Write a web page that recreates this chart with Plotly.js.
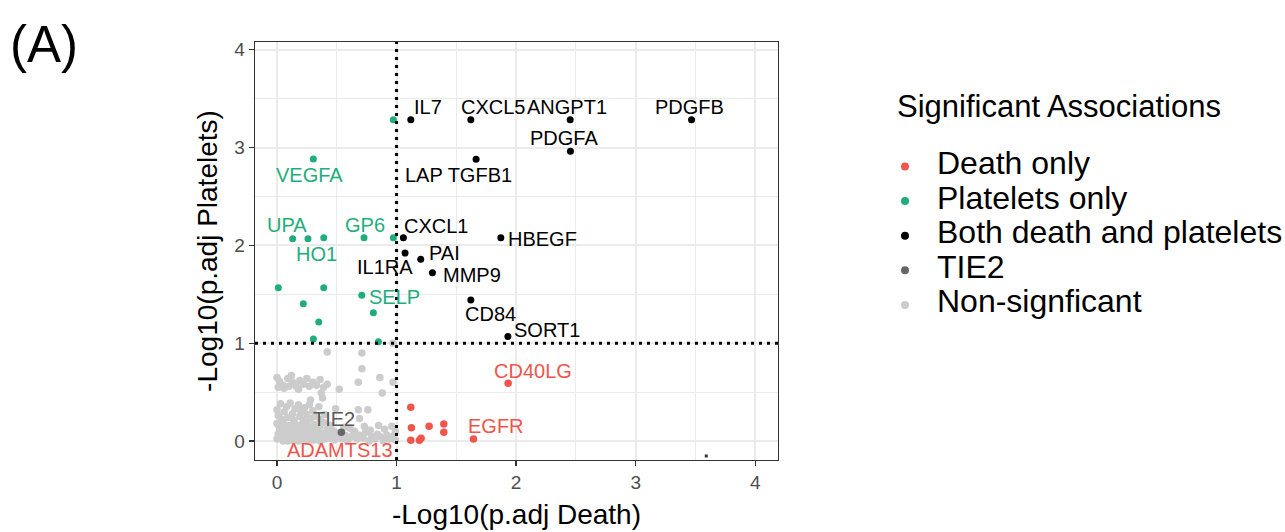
<!DOCTYPE html>
<html><head><meta charset="utf-8">
<script src="https://cdn.plot.ly/plotly-3.0.1.min.js"></script>
<style>html,body{margin:0;padding:0;background:#fff}#chart{width:1285px;height:532px}</style>
</head><body><div id="chart"></div>
<script>
// ---------------- data ----------------
const bothX = [1.119, 1.621, 2.452, 3.467, 2.454, 1.665, 1.057, 1.872, 1.071, 1.202, 1.300, 1.621, 1.931];
const bothY = [3.285, 3.285, 3.285, 3.285, 2.962, 2.880, 2.079, 2.079, 1.922, 1.858, 1.721, 1.442, 1.070];
const bothLabels = ['IL7', 'CXCL5', 'ANGPT1', 'PDGFB', 'PDGFA', 'LAP TGFB1', 'CXCL1', 'HBEGF', 'IL1RA', 'PAI', 'MMP9', 'CD84', 'SORT1'];

const plateletX = [0.973, 0.304, 0.131, 0.259, 0.391, 0.728, 0.973, 0.011, 0.391, 0.220, 0.709, 0.806, 0.349, 0.304, 0.848];
const plateletY = [3.285, 2.883, 2.069, 2.069, 2.079, 2.079, 2.079, 1.568, 1.568, 1.404, 1.490, 1.312, 1.217, 1.043, 1.015];
const plateletLabels = ['', 'VEGFA', 'UPA', 'HO1', '', 'GP6', '', '', '', '', 'SELP', '', '', '', ''];

const deathX = [1.119, 1.124, 1.272, 1.395, 1.395, 1.119, 1.191, 1.205, 1.643, 1.933];
const deathY = [0.345, 0.136, 0.150, 0.174, 0.089, 0.007, 0.007, 0.028, 0.020, 0.590];
const deathLabels = ['', '', '', '', '', 'ADAMTS13', '', '', 'EGFR', 'CD40LG'];

const tie2X = [0.538];
const tie2Y = [0.089];
const tie2Labels = ['TIE2'];

const nonsigX = [
  0.00,0.02,0.05,0.09,0.12,0.13,0.16,0.19,0.22,0.25,0.27,0.30,0.33,0.36,0.39,0.42,0.06,0.18,0.01,0.10,
  0.42,0.71,0.97,0.71,0.68,0.86,0.97,0.52,0.88,0.37,0.38,0.28,
  0.00,0.03,0.06,0.08,0.11,0.13,0.15,0.18,0.20,0.23,0.25,0.27,0.30,0.32,0.35,0.01,0.04,0.09,0.14,0.19,0.22,0.28,0.36,0.40,0.49,0.68,0.76,0.69,
  0.00,0.02,0.05,0.07,0.10,0.12,0.15,0.17,0.20,0.23,0.25,0.28,0.31,0.33,0.36,0.39,0.42,0.45,0.48,0.56,0.61,0.65,0.73,0.78,0.85,0.90,0.96,0.99,
  0.00,0.01,0.03,0.05,0.06,0.08,0.10,0.12,0.14,0.16,0.18,0.20,0.22,0.24,0.26,0.28,0.30,0.32,0.34,0.36,0.38,0.40,0.42,0.44,0.46,0.48,0.50,0.52,0.54,0.57,0.59,0.62,0.64,0.67,0.69,0.72,0.74,0.77,0.79,0.82,0.84,0.87,0.89,0.92,0.94,0.97,0.99,
  0.02,0.04,0.07,0.09,0.11,0.13,0.15,0.17,0.19,0.21,0.23,0.25,0.27,0.29,0.31,0.33,0.35,0.37,0.39
];
const nonsigY = [
  0.65,0.61,0.57,0.64,0.67,0.60,0.56,0.62,0.58,0.64,0.56,0.60,0.57,0.63,0.55,0.58,0.54,0.53,0.55,0.56,
  0.91,0.90,1.00,0.74,0.60,0.65,0.60,0.53,0.49,0.49,0.44,0.42,
  0.32,0.38,0.30,0.35,0.39,0.28,0.33,0.37,0.30,0.34,0.27,0.37,0.31,0.25,0.35,0.26,0.22,0.24,0.21,0.25,0.21,0.23,0.22,0.27,0.33,0.32,0.32,0.23,
  0.18,0.14,0.19,0.12,0.16,0.11,0.18,0.13,0.16,0.12,0.18,0.14,0.17,0.11,0.15,0.19,0.12,0.16,0.10,0.14,0.13,0.10,0.15,0.11,0.16,0.12,0.15,0.10,
  0.02,0.07,0.04,0.00,0.08,0.03,0.06,0.01,0.08,0.04,0.00,0.07,0.02,0.05,0.09,0.01,0.06,0.03,0.08,0.00,0.05,0.02,0.07,0.03,0.09,0.01,0.05,0.08,0.02,0.06,0.00,0.04,0.08,0.02,0.06,0.03,0.09,0.00,0.05,0.02,0.07,0.04,0.00,0.06,0.02,0.05,0.01,
  0.10,0.09,0.05,0.00,0.09,0.04,0.01,0.09,0.03,0.10,0.06,0.00,0.04,0.09,0.01,0.05,0.10,0.03,0.08
];

// stray tiny mark in the original figure
const strayX = [3.59];
const strayY = [-0.153];

const thresholdX = 1;
const thresholdY = 1;

const xTicks = [0, 1, 2, 3, 4];
const yTicks = [0, 1, 2, 3, 4];

const legendNames = ['Death only', 'Platelets only', 'Both death and platelets', 'TIE2', 'Non-signficant'];
const legendTitle = 'Significant Associations';
const panelTag = '(A)';
const xTitle = '-Log10(p.adj Death)';
const yTitle = '-Log10(p.adj Platelets)';

// ---------------- styles ----------------
const FONT = 'Liberation Sans, Arial, Helvetica, sans-serif';
const colors = {death: '#F0554B', platelets: '#1FAE7A', both: '#000000', tie2: '#666666', nonsig: '#CCCCCC'};
const legendColors = [colors.death, colors.platelets, colors.both, colors.tie2, colors.nonsig];
const tie2LabelColor = '#595959';

// label offsets in pixels [dx, dy(up)]
const labelShift = {
  'IL7': [17, 13], 'CXCL5': [22, 13], 'ANGPT1': [-3, 13], 'PDGFB': [-2, 13], 'PDGFA': [-6, 13],
  'LAP TGFB1': [-18, -16], 'CXCL1': [33, 12], 'HBEGF': [42, -1], 'IL1RA': [-20, -14], 'PAI': [24, 6],
  'MMP9': [40, -2], 'CD84': [20, -14], 'SORT1': [39, 6],
  'VEGFA': [-4, -16], 'UPA': [-6, 14], 'HO1': [9, -15], 'GP6': [1, 13], 'SELP': [33, -2],
  'CD40LG': [25, 12], 'EGFR': [23, 13], 'ADAMTS13': [-71, -10], 'TIE2': [-7, 13]
};

const mk = (x, y, color, size) => ({
  type: 'scatter', mode: 'markers', x: x, y: y, showlegend: false, hoverinfo: 'skip',
  marker: {color: color, size: size, line: {width: 0}}
});

const traces = [
  mk(nonsigX, nonsigY, colors.nonsig, 7.5),
  mk(tie2X, tie2Y, colors.tie2, 7.5),
  mk(deathX, deathY, colors.death, 7.5),
  mk(plateletX, plateletY, colors.platelets, 7),
  mk(bothX, bothY, colors.both, 7),
];
const stray = mk(strayX, strayY, '#333333', 3);
stray.marker.symbol = 'square';
traces.push(stray);

const annotations = [];
function addLabels(xs, ys, labels, color) {
  labels.forEach((lab, i) => {
    if (!lab) return;
    const s = labelShift[lab] || [0, 12];
    annotations.push({
      x: xs[i], y: ys[i], xref: 'x', yref: 'y', text: lab, showarrow: false,
      xanchor: 'center', yanchor: 'middle', xshift: s[0], yshift: s[1],
      font: {family: FONT, size: 20, color: color}
    });
  });
}
addLabels(bothX, bothY, bothLabels, colors.both);
addLabels(plateletX, plateletY, plateletLabels, colors.platelets);
addLabels(deathX, deathY, deathLabels, colors.death);
addLabels(tie2X, tie2Y, tie2Labels, tie2LabelColor);

// panel geometry in pixels (for legend placement)
const P = {l: 255, r: 778, t: 42, b: 460};
const px2x = px => (px - P.l) / (P.r - P.l);
const px2y = py => (P.b - py) / (P.b - P.t);

annotations.push({
  xref: 'paper', yref: 'paper', x: px2x(895), y: px2y(106), text: legendTitle, showarrow: false,
  xanchor: 'left', yanchor: 'middle', font: {family: FONT, size: 31, color: '#000'}
});
const shapes = [];
legendNames.forEach((name, i) => {
  const cy = 163 + i * 34.6;
  annotations.push({
    xref: 'paper', yref: 'paper', x: px2x(935), y: px2y(cy), text: name, showarrow: false,
    xanchor: 'left', yanchor: 'middle', font: {family: FONT, size: 32, color: '#000'}
  });
  shapes.push({
    type: 'circle', xref: 'paper', yref: 'paper', xsizemode: 'pixel', ysizemode: 'pixel',
    xanchor: px2x(905), yanchor: px2y(cy + 3.5), x0: -4, x1: 4, y0: -4, y1: 4,
    fillcolor: legendColors[i], line: {width: 0}
  });
});
annotations.push({
  xref: 'paper', yref: 'paper', x: px2x(44), y: px2y(44), text: panelTag, showarrow: false,
  xanchor: 'center', yanchor: 'middle', font: {family: FONT, size: 51, color: '#000'}
});

shapes.push({type: 'line', xref: 'x', yref: 'paper', x0: thresholdX, x1: thresholdX, y0: 0, y1: 1,
  layer: 'above', line: {color: '#000000', width: 3, dash: '3px,5px'}});
shapes.push({type: 'line', xref: 'paper', yref: 'y', x0: 0, x1: 1, y0: thresholdY, y1: thresholdY,
  layer: 'above', line: {color: '#000000', width: 3, dash: '3px,5px'}});

const axisCommon = {
  showline: true, mirror: true, linecolor: '#333333', linewidth: 1.3,
  ticks: 'outside', ticklen: 5, tickwidth: 1.3, tickcolor: '#333333',
  showgrid: true, gridcolor: '#EBEBEB', gridwidth: 2, zeroline: false,
  tickfont: {family: FONT, size: 19, color: '#4D4D4D'},
  minor: {dtick: 0.5, showgrid: true, gridcolor: '#EBEBEB', gridwidth: 1, ticks: ''}
};

const layout = {
  width: 1285, height: 532,
  margin: {l: P.l, r: 1285 - P.r, t: P.t, b: 532 - P.b, pad: 0},
  paper_bgcolor: '#fff', plot_bgcolor: '#fff',
  showlegend: false,
  xaxis: Object.assign({}, axisCommon, {
    range: [-0.184, 4.19], tickmode: 'array', tickvals: xTicks, ticktext: xTicks.map(String),
    title: {text: xTitle, font: {family: FONT, size: 28, color: '#000'}, standoff: 12}
  }),
  yaxis: Object.assign({}, axisCommon, {
    range: [-0.194, 4.08], tickmode: 'array', tickvals: yTicks, ticktext: yTicks.map(String),
    title: {text: yTitle, font: {family: FONT, size: 28, color: '#000'}, standoff: 8}
  }),
  annotations: annotations,
  shapes: shapes
};

Plotly.newPlot('chart', traces, layout, {displayModeBar: false, staticPlot: true});
</script></body></html>
